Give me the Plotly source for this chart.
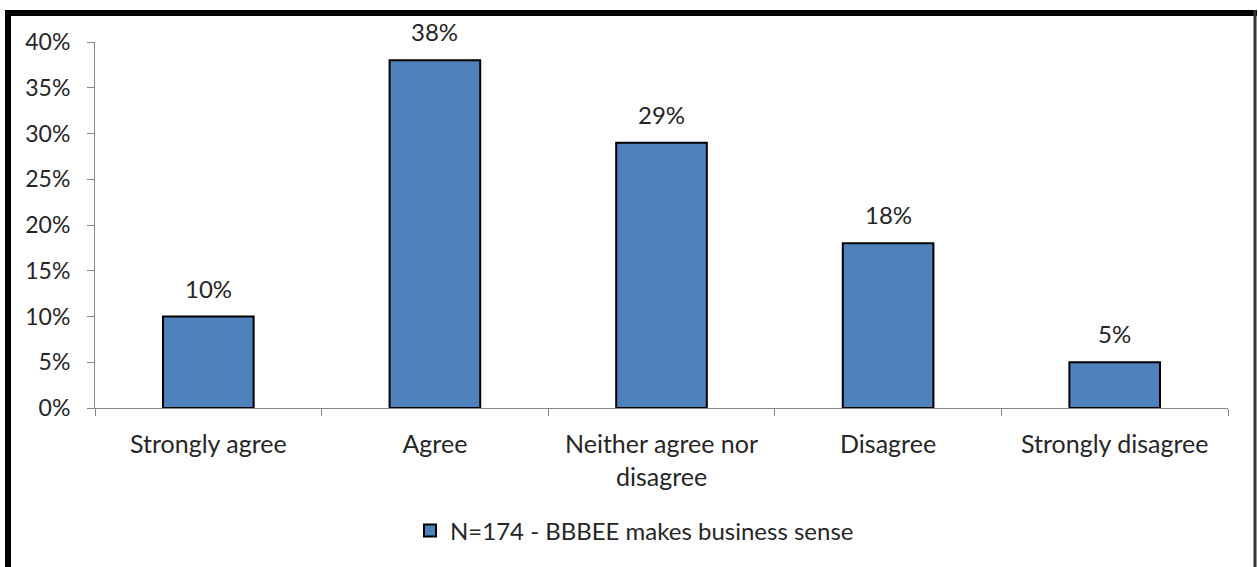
import plotly.graph_objects as go

# Survey responses
categories = ["Strongly agree", "Agree", "Neither agree nor<br>disagree", "Disagree", "Strongly disagree"]
percentages = [10, 38, 29, 18, 5]
series_name = "N=174 - BBBEE makes business sense"
y_tick_values = [0, 5, 10, 15, 20, 25, 30, 35, 40]
y_tick_labels = [f"{v}%" for v in y_tick_values]

FONT = "Lato"
TEXT_COLOR = "#262626"
AXIS_COLOR = "#868686"

W, H = 1258, 567
L, R, T, B = 95, 30, 42, 159
pw, ph = W - L - R, H - T - B


def px(x):
    return (x - L) / pw


def py(y):
    return (H - B - y) / ph


fig = go.Figure()
fig.add_trace(go.Bar(
    x=categories,
    y=percentages,
    name=series_name,
    marker=dict(color="#4F81BD", line=dict(color="#000000", width=2)),
    width=0.4,
    showlegend=True,
))

# value labels above each bar
for c, v in zip(categories, percentages):
    fig.add_annotation(x=c, y=v, text=f"{v}%", showarrow=False,
                       yanchor="bottom", yshift=12,
                       font=dict(family=FONT, size=24, color=TEXT_COLOR))

# outer chart frame (left, top, right edges)
fig.add_shape(type="line", xref="paper", yref="paper",
              x0=px(8), x1=px(8), y0=py(10), y1=py(620),
              line=dict(color="#000000", width=6))
fig.add_shape(type="line", xref="paper", yref="paper",
              x0=px(5), x1=px(1257), y0=py(13), y1=py(13),
              line=dict(color="#000000", width=6))
fig.add_shape(type="line", xref="paper", yref="paper",
              x0=px(1255), x1=px(1255), y0=py(10), y1=py(620),
              line=dict(color="#333333", width=3))

fig.update_layout(
    width=W, height=H,
    margin=dict(l=L, r=R, t=T, b=B),
    paper_bgcolor="white", plot_bgcolor="white",
    font=dict(family=FONT, size=24, color=TEXT_COLOR),
    showlegend=True,
    legend=dict(orientation="h", x=px(410), xanchor="left",
                y=py(531), yanchor="middle",
                font=dict(family=FONT, size=24, color=TEXT_COLOR),
                bgcolor="rgba(0,0,0,0)"),
    xaxis=dict(
        type="category",
        showline=True, linecolor=AXIS_COLOR, linewidth=1,
        ticks="outside", tickson="boundaries", ticklen=7, tickcolor=AXIS_COLOR,
        showgrid=False, ticklabelstandoff=14,
        tickfont=dict(family=FONT, size=25, color=TEXT_COLOR),
    ),
    yaxis=dict(
        range=[0, 40],
        tickvals=y_tick_values, ticktext=y_tick_labels,
        showline=True, linecolor=AXIS_COLOR, linewidth=1,
        ticks="outside", ticklen=7, tickcolor=AXIS_COLOR,
        showgrid=False, zeroline=False, ticklabelstandoff=12,
        tickfont=dict(family=FONT, size=23, color=TEXT_COLOR),
    ),
)

fig.write_html("out.html")
